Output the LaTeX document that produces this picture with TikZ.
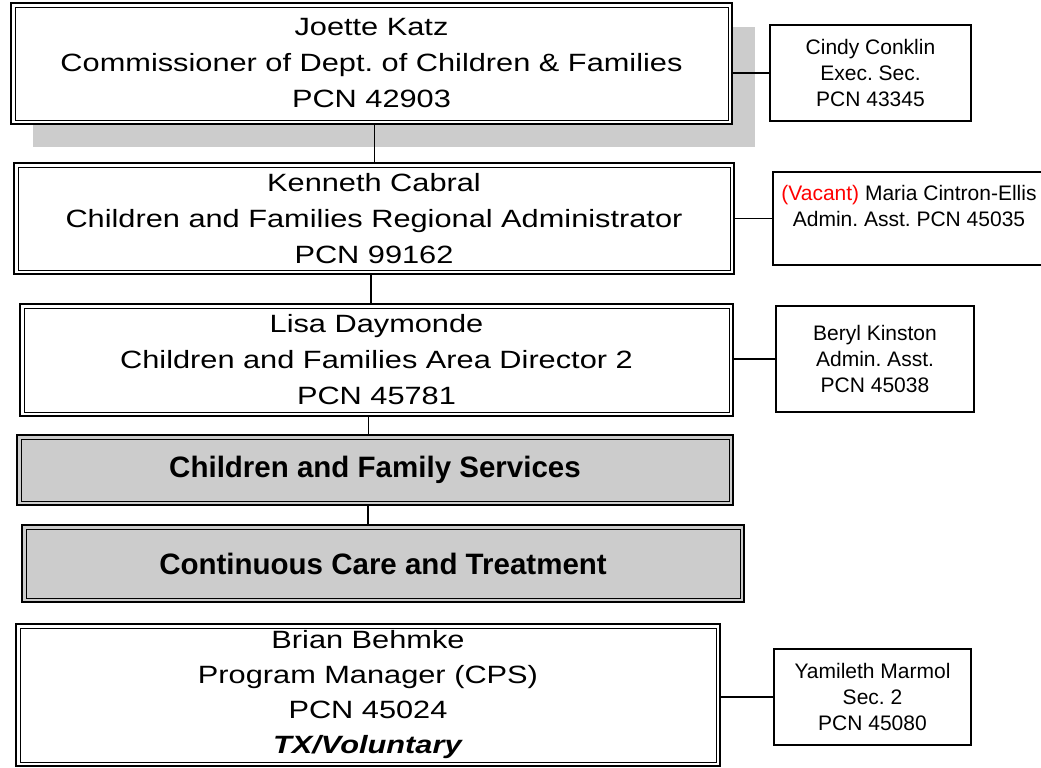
\documentclass[tikz,border=0pt]{standalone}
\usepackage{fontspec}
\setmainfont{Liberation Sans}
\newfontfamily\widefont{Liberation Sans}[FakeStretch=1.23]
\frenchspacing
\begin{document}
\begin{tikzpicture}[x=1pt,y=-1pt,line join=miter,
	boss/.style={draw,line width=2pt,fill=white,inner sep=0pt,align=center,font=\widefont\fontsize{25}{36}\selectfont},
	unit/.style={boss,fill=black!20,font=\bfseries\fontsize{29.5}{34}\selectfont},
	aide/.style={draw,line width=1.6pt,fill=white,inner sep=0pt,align=center,font=\fontsize{21}{26}\selectfont},
	link/.style={line width=1.3pt}]
		\useasboundingbox (0,0) rectangle (1041,768) ;
		\fill[black!20] (33,27) rectangle (755,147) ;
		\node[boss,minimum width=721,minimum height=121] (katz) at (371.5,63.5) {Joette Katz\\Commissioner of Dept. of Children \& Families\\PCN 42903} ;
		\node[boss,minimum width=720,minimum height=111] (cabral) at (374,218.5) {Kenneth Cabral\\Children and Families Regional Administrator\\PCN 99162} ;
		\node[boss,minimum width=713,minimum height=112] (daymonde) at (376.5,360) {Lisa Daymonde\\Children and Families Area Director 2\\PCN 45781} ;
		\node[unit,minimum width=716,minimum height=70] (services) at (375,470) {Children and Family Services} ;
		\node[unit,minimum width=722,minimum height=77] (care) at (383,563.5) {Continuous Care and Treatment} ;
		\node[boss,minimum width=704,minimum height=142,font=\widefont\fontsize{25}{35}\selectfont] (behmke) at (368,695) {Brian Behmke\\Program Manager (CPS)\\PCN 45024\\\textbf{\textit{TX/Voluntary}}} ;
		\foreach \n in {katz,cabral,daymonde,services,care,behmke}
			\draw[line width=0.8pt] ([xshift=5pt,yshift=-5pt]\n.north west) rectangle ([xshift=-5pt,yshift=5pt]\n.south east) ;
		\node[aide,minimum width=201,minimum height=96] (conklin) at (870.5,73) {Cindy Conklin\\Exec. Sec.\\PCN 43345} ;
		\node[aide,minimum width=272,minimum height=93] (cintron) at (909,218.5) {\textcolor{red}{(Vacant)} Maria Cintron-Ellis\\Admin. Asst. PCN 45035\\~} ;
		\node[aide,minimum width=198,minimum height=106] (kinston) at (875,359) {Beryl Kinston\\Admin. Asst.\\PCN 45038} ;
		\node[aide,minimum width=197,minimum height=96] (marmol) at (872.5,697) {Yamileth Marmol\\Sec. 2\\PCN 45080} ;
		\draw[link] (katz.south) ++(3,0) coordinate (k1) -- (k1 |- cabral.north) ;
		\draw[link] (cabral.south) ++(-3,0) coordinate (k2) -- (k2 |- daymonde.north) ;
		\draw[link] (daymonde.south) ++(-8,0) coordinate (k3) -- (k3 |- services.north) ;
		\draw[link] (services.south) ++(-7,0) coordinate (k4) -- (k4 |- care.north) ;
		\draw[link] (katz.east |- conklin.west) -- (conklin.west) ;
		\draw[link] (cabral.east |- cintron.west) -- (cintron.west) ;
		\draw[link] (daymonde.east |- kinston.west) -- (kinston.west) ;
		\draw[link] (behmke.east |- marmol.west) -- (marmol.west) ;
	\end{tikzpicture}
\end{document}
